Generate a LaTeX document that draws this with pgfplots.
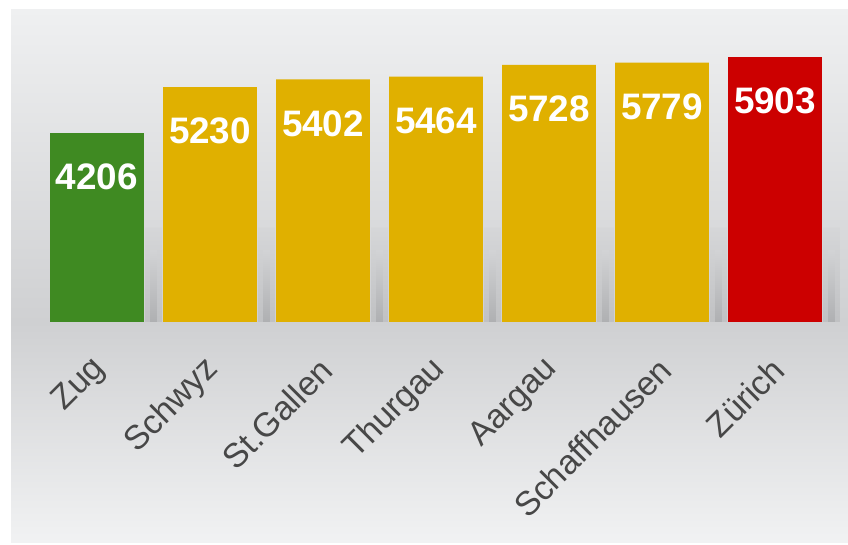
\documentclass[border=0pt]{standalone}
\usepackage{pgfplots}
\pgfplotsset{compat=1.18}
\usepackage{fontspec}
\setmainfont{Liberation Sans}
\definecolor{bgtop}{HTML}{EFF0F1}
\definecolor{bgmid}{HTML}{CFD0D2}
\definecolor{bgbot}{HTML}{F1F2F3}
\definecolor{shadowA}{HTML}{C0C1C3}
\definecolor{shadowB}{HTML}{AFB0B2}
\definecolor{zgreen}{HTML}{3F8A22}
\definecolor{zyellow}{HTML}{E0B000}
\definecolor{zred}{HTML}{CC0000}
\definecolor{lblgray}{HTML}{474747}

\begin{document}
\begin{tikzpicture}
\useasboundingbox (0,0) rectangle (848bp,545bp);
\fill[white] (0,0) rectangle (848bp,545bp);
% background panel
\shade[top color=bgtop, bottom color=bgmid] (11bp,223bp) rectangle (848bp,535bp);
\shade[top color=bgmid, bottom color=bgbot] (11bp,2bp) rectangle (848bp,223.1bp);
\begin{axis}[
    at={(40.5bp,223bp)}, anchor=south west,
    scale only axis,
    width=791bp, height=269.4bp,
    xmin=-0.5, xmax=6.5,
    ymin=0, ymax=6000,
    axis line style={draw=none},
    ytick=\empty,
    xtick={0,...,6},
    xticklabels={Zug,Schwyz,St.Gallen,Thurgau,Aargau,Schaffhausen,Zürich},
    major tick length=0,
    xticklabel style={xshift=6bp, yshift=-40bp, rotate=45, anchor=east,
        font=\fontsize{34}{36}\selectfont, text=lblgray},
    ybar, bar shift=0,
    /pgf/number format/assume math mode=true,
    /pgf/number format/1000 sep={},
    every node near coord/.append style={anchor=center, yshift=-44bp,
        text=white, font=\bfseries\fontsize{37}{39}\selectfont},
    clip=false,
]
% soft shadows in the gaps
\addplot[draw=none, bar width=0.15, top color=bgmid!80!bgtop, bottom color=shadowA]
    coordinates {(0.5,2100) (1.5,2100) (2.5,2100) (3.5,2100) (4.5,2100) (5.5,2100) (6.5,2100)};
\addplot[draw=none, bar width=0.06, top color=bgmid!90!bgtop, bottom color=shadowB]
    coordinates {(0.5,1600) (1.5,1600) (2.5,1600) (3.5,1600) (4.5,1600) (5.5,1600) (6.5,1600)};
\addplot[draw=none, fill=zgreen, bar width=0.83, nodes near coords] coordinates {(0,4206)};
\addplot[draw=none, fill=zyellow, bar width=0.83, nodes near coords]
    coordinates {(1,5230) (2,5402) (3,5464) (4,5728) (5,5779)};
\addplot[draw=none, fill=zred, bar width=0.83, nodes near coords] coordinates {(6,5903)};
\end{axis}
\end{tikzpicture}
\end{document}
